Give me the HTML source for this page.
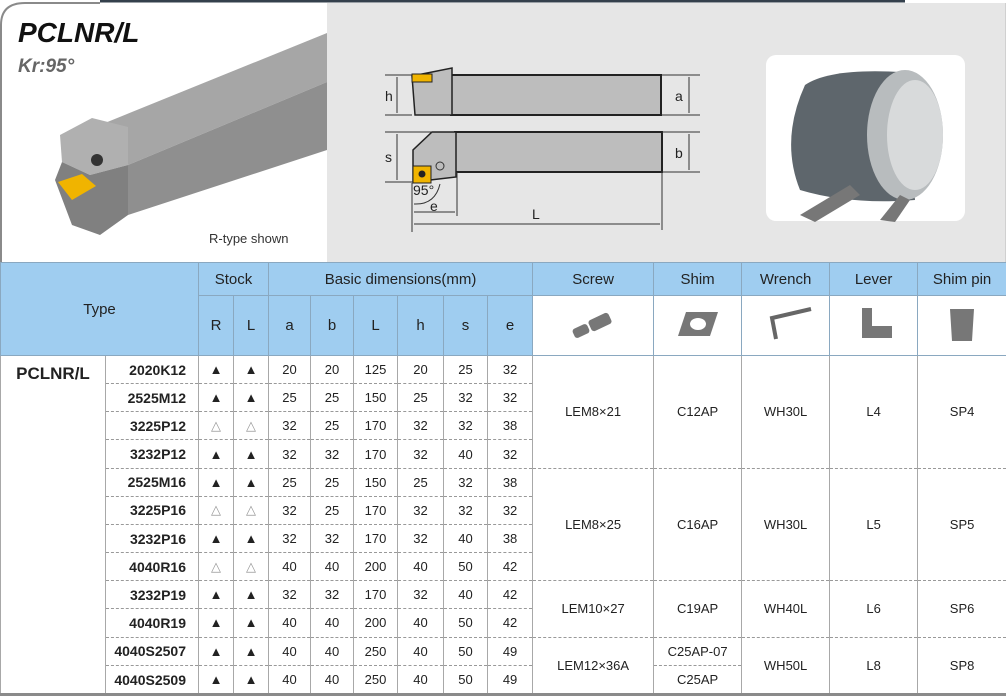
<!DOCTYPE html>
<html><head><meta charset="utf-8"><style>
*{margin:0;padding:0;box-sizing:border-box}
body{width:1006px;height:696px;overflow:hidden;background:#fff;font-family:"Liberation Sans",sans-serif;position:relative}
table{position:absolute;left:0;top:262px;width:1006px;border-collapse:collapse;table-layout:fixed}
td{text-align:center;font-size:13px;color:#222;border-left:1px solid #a8a8a8;border-right:1px solid #a8a8a8;border-top:1px dashed #999;padding:0}
tr.d td{height:28.17px}
.h td{background:#9fcdf0;font-size:15px;color:#222;border:1px solid #8aa8c0}
.h2 td{height:60px}
.h1 td{height:33px}
td.m{font-weight:bold;font-size:14px;text-align:right;padding-right:12px}
td.t{font-weight:bold;font-size:17px;vertical-align:top;padding-top:8px;border-top:1px solid #888}
td.w{background:#fff}
</style></head><body>
<svg width="1006" height="262" style="position:absolute;left:0;top:0">
<rect x="327" y="3" width="679" height="259" fill="#e6e6e6"/>
<line x1="100" y1="1" x2="905" y2="1" stroke="#34404c" stroke-width="3"/>
<path d="M1 262 V25 Q1 3 25 3 H100" fill="none" stroke="#8a8a8a" stroke-width="2"/>
<line x1="1006" y1="3" x2="1006" y2="262" stroke="#bbb"/>
<text x="18" y="42" font-family="Liberation Sans" font-weight="bold" font-style="italic" font-size="28" fill="#111">PCLNR/L</text>
<text x="18" y="72" font-family="Liberation Sans" font-weight="bold" font-style="italic" font-size="19" fill="#666">Kr:95°</text>
<polygon points="100,125 327,33 327,82 128,165" fill="#a6a6a6"/>
<polygon points="128,165 327,82 327,150 128,215" fill="#8f8f8f"/>
<polygon points="60,135 92,118 128,127 128,165 90,175 62,162" fill="#b0b0b0"/>
<polygon points="62,162 90,175 128,165 128,215 100,235 72,225 55,180" fill="#808080"/>
<polygon points="58,182 82,174 96,186 72,200" fill="#f0b400"/>
<circle cx="97" cy="160" r="6" fill="#333"/>
<text x="209" y="243" font-family="Liberation Sans" font-size="13" fill="#333">R-type shown</text>
<rect x="451" y="75" width="210" height="40" fill="#bdbdbd" stroke="#222" stroke-width="2"/>
<polygon points="412,76 452,68 452,115 415,115" fill="#bdbdbd" stroke="#222" stroke-width="1.5"/>
<rect x="412" y="74" width="20" height="8" fill="#f0b400" stroke="#222"/>
<rect x="455" y="132" width="207" height="40" fill="#bdbdbd" stroke="#222" stroke-width="2"/>
<polygon points="432,132 456,132 456,177 413,182 413,150" fill="#bdbdbd" stroke="#222" stroke-width="1.5"/>
<rect x="413" y="166" width="18" height="17" fill="#f0b400" stroke="#222"/>
<circle cx="422" cy="174" r="3.5" fill="#222"/>
<circle cx="440" cy="166" r="4" fill="none" stroke="#333"/>
<g stroke="#333" stroke-width="1" fill="none">
<line x1="385" y1="75" x2="412" y2="75"/><line x1="385" y1="115" x2="412" y2="115"/><line x1="397" y1="77" x2="397" y2="113"/>
<line x1="385" y1="132" x2="432" y2="132"/><line x1="385" y1="182" x2="413" y2="182"/><line x1="397" y1="134" x2="397" y2="180"/>
<line x1="662" y1="75" x2="700" y2="75"/><line x1="662" y1="115" x2="700" y2="115"/><line x1="689" y1="77" x2="689" y2="113"/>
<line x1="662" y1="132" x2="700" y2="132"/><line x1="662" y1="172" x2="700" y2="172"/><line x1="689" y1="134" x2="689" y2="170"/>
<line x1="412" y1="183" x2="412" y2="232"/><line x1="457" y1="172" x2="457" y2="216"/><line x1="662" y1="172" x2="662" y2="230"/>
<line x1="414" y1="212" x2="455" y2="212"/><line x1="414" y1="224" x2="660" y2="224"/>
<path d="M440 184 Q435 205 414 204"/>
</g>
<g font-family="Liberation Sans" font-size="14" fill="#222">
<text x="385" y="101">h</text><text x="385" y="162">s</text><text x="675" y="101">a</text><text x="675" y="158">b</text>
<text x="413" y="195">95°</text><text x="430" y="211">e</text><text x="532" y="219">L</text></g>
<rect x="766" y="55" width="199" height="166" rx="10" fill="#fff"/>
<path d="M805 85 Q830 68 900 72 L915 200 Q850 205 800 190 Q780 140 805 85Z" fill="#5e666c"/>
<ellipse cx="905" cy="135" rx="38" ry="65" fill="#b8bcbe"/>
<ellipse cx="915" cy="135" rx="28" ry="55" fill="#d8dadb"/>
<polygon points="800,215 850,185 860,195 815,222" fill="#777"/>
<polygon points="880,220 900,195 910,200 895,222" fill="#777"/>
</svg>
<table>
<colgroup><col style="width:105px"><col style="width:93px"><col style="width:35px"><col style="width:35px"><col style="width:42px"><col style="width:43px"><col style="width:44px"><col style="width:46px"><col style="width:44px"><col style="width:45px"><col style="width:121px"><col style="width:88px"><col style="width:88px"><col style="width:88px"><col style="width:89px"></colgroup>
<tr class="h h1"><td colspan="2" rowspan="2">Type</td><td colspan="2">Stock</td><td colspan="6">Basic dimensions(mm)</td><td>Screw</td><td>Shim</td><td>Wrench</td><td>Lever</td><td>Shim pin</td></tr>
<tr class="h h2"><td>R</td><td>L</td><td>a</td><td>b</td><td>L</td><td>h</td><td>s</td><td>e</td>
<td class="w"><svg width="60" height="40"><g fill="#777"><rect x="26" y="12" width="22" height="12" rx="3" transform="rotate(-25 37 18)"/><rect x="10" y="22" width="16" height="10" rx="3" transform="rotate(-25 18 27)"/></g></svg></td>
<td class="w"><svg width="60" height="40"><polygon points="10,32 18,8 50,8 42,32" fill="#777"/><ellipse cx="30" cy="20" rx="8" ry="6" fill="#fff"/></svg></td>
<td class="w"><svg width="60" height="40"><path d="M20 35 L16 14 L55 5" fill="none" stroke="#666" stroke-width="4"/></svg></td>
<td class="w"><svg width="60" height="40"><path d="M18 4 h10 v18 h20 v12 h-30z" fill="#777"/></svg></td>
<td class="w"><svg width="60" height="40"><path d="M18 5 h24 l-2 32 h-20z" fill="#777"/></svg></td></tr>
<tr class="d"><td class="t" rowspan="12">PCLNR/L</td><td class="m">2020K12</td><td>▲</td><td>▲</td><td>20</td><td>20</td><td>125</td><td>20</td><td>25</td><td>32</td><td rowspan="4">LEM8×21</td><td rowspan="4">C12AP</td><td rowspan="4">WH30L</td><td rowspan="4">L4</td><td rowspan="4">SP4</td></tr>
<tr class="d"><td class="m">2525M12</td><td>▲</td><td>▲</td><td>25</td><td>25</td><td>150</td><td>25</td><td>32</td><td>32</td></tr>
<tr class="d"><td class="m">3225P12</td><td style="color:#999">△</td><td style="color:#999">△</td><td>32</td><td>25</td><td>170</td><td>32</td><td>32</td><td>38</td></tr>
<tr class="d"><td class="m">3232P12</td><td>▲</td><td>▲</td><td>32</td><td>32</td><td>170</td><td>32</td><td>40</td><td>32</td></tr>
<tr class="d"><td class="m">2525M16</td><td>▲</td><td>▲</td><td>25</td><td>25</td><td>150</td><td>25</td><td>32</td><td>38</td><td rowspan="4">LEM8×25</td><td rowspan="4">C16AP</td><td rowspan="4">WH30L</td><td rowspan="4">L5</td><td rowspan="4">SP5</td></tr>
<tr class="d"><td class="m">3225P16</td><td style="color:#999">△</td><td style="color:#999">△</td><td>32</td><td>25</td><td>170</td><td>32</td><td>32</td><td>32</td></tr>
<tr class="d"><td class="m">3232P16</td><td>▲</td><td>▲</td><td>32</td><td>32</td><td>170</td><td>32</td><td>40</td><td>38</td></tr>
<tr class="d"><td class="m">4040R16</td><td style="color:#999">△</td><td style="color:#999">△</td><td>40</td><td>40</td><td>200</td><td>40</td><td>50</td><td>42</td></tr>
<tr class="d"><td class="m">3232P19</td><td>▲</td><td>▲</td><td>32</td><td>32</td><td>170</td><td>32</td><td>40</td><td>42</td><td rowspan="2">LEM10×27</td><td rowspan="2">C19AP</td><td rowspan="2">WH40L</td><td rowspan="2">L6</td><td rowspan="2">SP6</td></tr>
<tr class="d"><td class="m">4040R19</td><td>▲</td><td>▲</td><td>40</td><td>40</td><td>200</td><td>40</td><td>50</td><td>42</td></tr>
<tr class="d"><td class="m">4040S2507</td><td>▲</td><td>▲</td><td>40</td><td>40</td><td>250</td><td>40</td><td>50</td><td>49</td><td rowspan="2">LEM12×36A</td><td>C25AP-07</td><td rowspan="2">WH50L</td><td rowspan="2">L8</td><td rowspan="2">SP8</td></tr>
<tr class="d"><td class="m">4040S2509</td><td>▲</td><td>▲</td><td>40</td><td>40</td><td>250</td><td>40</td><td>50</td><td>49</td><td>C25AP</td></tr>
</table>
<div style="position:absolute;left:0;top:693px;width:1006px;height:3px;background:#8a8a8a"></div>
</body></html>
